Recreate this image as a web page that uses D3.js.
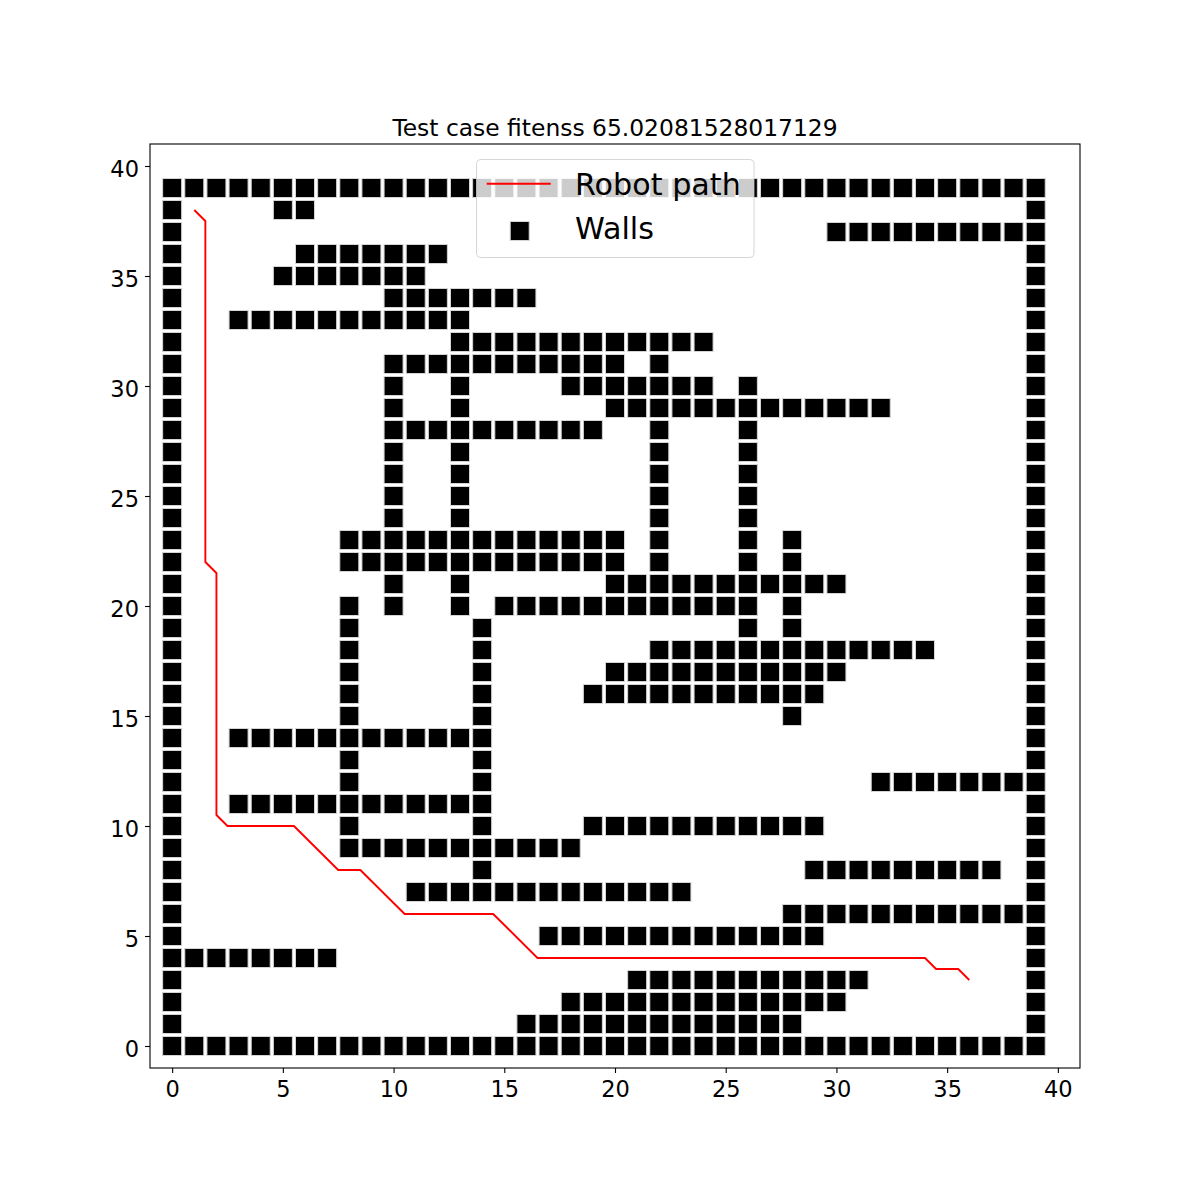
<!DOCTYPE html>
<html>
<head>
<meta charset="utf-8">
<script src="https://cdn.jsdelivr.net/npm/d3@7"></script>
<style>
  html, body { margin: 0; padding: 0; background: #fff; }
  svg { display: block; font-family: "DejaVu Sans", sans-serif; }
</style>
</head>
<body>
<svg id="chart" width="1200" height="1200"></svg>
<script>
// ---- data ----
const titleText = "Test case fitenss 65.02081528017129";
const xTicks = [0, 5, 10, 15, 20, 25, 30, 35, 40];
const yTicks = [0, 5, 10, 15, 20, 25, 30, 35, 40];
const legendLabels = ["Robot path", "Walls"];

// wall runs per grid row: [y, xStart, xEnd] (inclusive, integer cells)
const wallRuns = [
  [39, 0, 39],
  [38, 0, 0], [38, 5, 6], [38, 39, 39],
  [37, 0, 0], [37, 30, 39],
  [36, 0, 0], [36, 6, 12], [36, 39, 39],
  [35, 0, 0], [35, 5, 11], [35, 39, 39],
  [34, 0, 0], [34, 10, 16], [34, 39, 39],
  [33, 0, 0], [33, 3, 13], [33, 39, 39],
  [32, 0, 0], [32, 13, 24], [32, 39, 39],
  [31, 0, 0], [31, 10, 20], [31, 22, 22], [31, 39, 39],
  [30, 0, 0], [30, 10, 10], [30, 13, 13], [30, 18, 24], [30, 26, 26], [30, 39, 39],
  [29, 0, 0], [29, 10, 10], [29, 13, 13], [29, 20, 32], [29, 39, 39],
  [28, 0, 0], [28, 10, 19], [28, 22, 22], [28, 26, 26], [28, 39, 39],
  [27, 0, 0], [27, 10, 10], [27, 13, 13], [27, 22, 22], [27, 26, 26], [27, 39, 39],
  [26, 0, 0], [26, 10, 10], [26, 13, 13], [26, 22, 22], [26, 26, 26], [26, 39, 39],
  [25, 0, 0], [25, 10, 10], [25, 13, 13], [25, 22, 22], [25, 26, 26], [25, 39, 39],
  [24, 0, 0], [24, 10, 10], [24, 13, 13], [24, 22, 22], [24, 26, 26], [24, 39, 39],
  [23, 0, 0], [23, 8, 20], [23, 22, 22], [23, 26, 26], [23, 28, 28], [23, 39, 39],
  [22, 0, 0], [22, 8, 20], [22, 22, 22], [22, 26, 26], [22, 28, 28], [22, 39, 39],
  [21, 0, 0], [21, 10, 10], [21, 13, 13], [21, 20, 30], [21, 39, 39],
  [20, 0, 0], [20, 8, 8], [20, 10, 10], [20, 13, 13], [20, 15, 26], [20, 28, 28], [20, 39, 39],
  [19, 0, 0], [19, 8, 8], [19, 14, 14], [19, 26, 26], [19, 28, 28], [19, 39, 39],
  [18, 0, 0], [18, 8, 8], [18, 14, 14], [18, 22, 34], [18, 39, 39],
  [17, 0, 0], [17, 8, 8], [17, 14, 14], [17, 20, 30], [17, 39, 39],
  [16, 0, 0], [16, 8, 8], [16, 14, 14], [16, 19, 29], [16, 39, 39],
  [15, 0, 0], [15, 8, 8], [15, 14, 14], [15, 28, 28], [15, 39, 39],
  [14, 0, 0], [14, 3, 14], [14, 39, 39],
  [13, 0, 0], [13, 8, 8], [13, 14, 14], [13, 39, 39],
  [12, 0, 0], [12, 8, 8], [12, 14, 14], [12, 32, 39],
  [11, 0, 0], [11, 3, 14], [11, 39, 39],
  [10, 0, 0], [10, 8, 8], [10, 14, 14], [10, 19, 29], [10, 39, 39],
  [9, 0, 0], [9, 8, 18], [9, 39, 39],
  [8, 0, 0], [8, 14, 14], [8, 29, 37], [8, 39, 39],
  [7, 0, 0], [7, 11, 23], [7, 39, 39],
  [6, 0, 0], [6, 28, 39],
  [5, 0, 0], [5, 17, 29], [5, 39, 39],
  [4, 0, 7], [4, 39, 39],
  [3, 0, 0], [3, 21, 31], [3, 39, 39],
  [2, 0, 0], [2, 18, 30], [2, 39, 39],
  [1, 0, 0], [1, 16, 28], [1, 39, 39],
  [0, 0, 39]
];

const pathX = [1, 1.5, 1.5, 2, 2, 2.5, 5.5, 7.5, 8.5, 10.5, 14.5, 16.5, 34, 34.5, 35.5, 36];
const pathY = [38, 37.5, 22, 21.5, 10.5, 10, 10, 8, 8, 6, 6, 4, 4, 3.5, 3.5, 3];

// ---- layout ----
const svg = d3.select("#chart");
const L = 150, R = 1080, T = 144, B = 1068;
const x = d3.scaleLinear().domain([-1, 41]).range([L, R]);
const y = d3.scaleLinear().domain([-1, 41]).range([B, T]);

const walls = [];
wallRuns.forEach(([wy, x0, x1]) => {
  for (let wx = x0; wx <= x1; wx++) walls.push({ x: wx, y: wy });
});

const S = 19; // square marker size (px)

const clipId = "plotclip";
svg.append("defs").append("clipPath").attr("id", clipId)
  .append("rect").attr("x", L).attr("y", T).attr("width", R - L).attr("height", B - T);

const plot = svg.append("g").attr("clip-path", `url(#${clipId})`);

// path
const line = d3.line().x(d => x(d[0])).y(d => y(d[1]));
plot.append("path")
  .datum(pathX.map((v, i) => [v, pathY[i]]))
  .attr("d", line)
  .attr("fill", "none")
  .attr("stroke", "#ff0000")
  .attr("stroke-width", 1.9)
  .attr("stroke-linejoin", "round");

// walls
plot.append("g").selectAll("rect")
  .data(walls)
  .join("rect")
  .attr("x", d => x(d.x) - S / 2)
  .attr("y", d => y(d.y) - S / 2)
  .attr("width", S)
  .attr("height", S)
  .attr("fill", "#000")
  .attr("stroke", "#d4d4d4")
  .attr("stroke-width", 1);

// axes
const xAxis = d3.axisBottom(x).tickValues(xTicks).tickSize(5).tickPadding(8.5).tickFormat(d3.format("d"));
const yAxis = d3.axisLeft(y).tickValues(yTicks).tickSize(5).tickPadding(6).tickFormat(d3.format("d"));

const gx = svg.append("g").attr("transform", `translate(0,${B})`).call(xAxis);
const gy = svg.append("g").attr("transform", `translate(${L},0)`).call(yAxis);
[gx, gy].forEach(g => {
  g.select(".domain").remove();
  g.selectAll("line").attr("stroke", "#000").attr("stroke-width", 1.1);
  g.selectAll("text").attr("font-size", "22.5px").attr("fill", "#000")
    .attr("font-family", "DejaVu Sans, sans-serif");
});
gy.selectAll("text").attr("dy", "0.45em");

// frame
svg.append("rect")
  .attr("x", L).attr("y", T).attr("width", R - L).attr("height", B - T)
  .attr("fill", "none").attr("stroke", "#000").attr("stroke-width", 1.1);

// title
svg.append("text")
  .attr("x", (L + R) / 2)
  .attr("y", 136)
  .attr("text-anchor", "middle")
  .attr("font-size", "23.4px")
  .attr("fill", "#000")
  .text(titleText);

// legend
const lg = svg.append("g");
lg.append("rect")
  .attr("x", 476.5).attr("y", 159.5).attr("width", 277.5).attr("height", 98)
  .attr("rx", 4).attr("ry", 4)
  .attr("fill", "#fff").attr("fill-opacity", 0.8)
  .attr("stroke", "#cccccc").attr("stroke-opacity", 0.8).attr("stroke-width", 1);
lg.append("line")
  .attr("x1", 486.7).attr("x2", 550.7).attr("y1", 183.7).attr("y2", 183.7)
  .attr("stroke", "#ff0000").attr("stroke-width", 1.9);
lg.append("rect")
  .attr("x", 519.7 - S / 2).attr("y", 231 - S / 2).attr("width", S).attr("height", S)
  .attr("fill", "#000").attr("stroke", "#d4d4d4").attr("stroke-width", 1);
lg.selectAll("text.lab")
  .data(legendLabels)
  .join("text")
  .attr("class", "lab")
  .attr("x", 575)
  .attr("y", (d, i) => i === 0 ? 195 : 238.5)
  .attr("font-size", "30.2px")
  .attr("fill", "#000")
  .text(d => d);
</script>
</body>
</html>
